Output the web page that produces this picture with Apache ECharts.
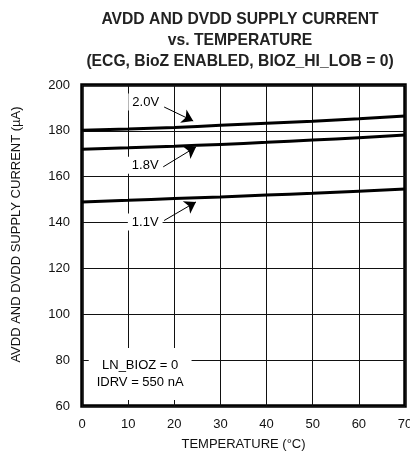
<!DOCTYPE html>
<html>
<head>
<meta charset="utf-8">
<script src="https://cdn.jsdelivr.net/npm/echarts@6/dist/echarts.min.js"></script>
<style>
  html, body { margin: 0; padding: 0; background: #fff; }
  #chart { width: 410px; height: 468px; }
</style>
</head>
<body>
<div id="chart"></div>
<script>
// temperature (°C)
const temps = [0, 10, 20, 30, 40, 50, 60, 70];
// supply current (µA) per supply voltage
const i20 = [180.3, 180.8, 181.5, 182.4, 183.3, 184.2, 185.3, 186.5];
const i18 = [172.0, 172.6, 173.3, 174.1, 175.0, 176.0, 177.0, 178.2];
const i11 = [149.0, 149.7, 150.5, 151.2, 152.0, 152.8, 153.7, 154.6];
const seriesNames = ['2.0V', '1.8V', '1.1V'];
// annotation anchors in data space: label pos, arrow start, arrow end
const labelPos = [[13.8, 192.6], [13.7, 165], [13.7, 140.2]];
const arrowFrom = [[17.8, 190.4], [17.6, 164.3], [17.8, 140.9]];
const arrowTo = [[24.1, 184.3], [24.7, 173], [24.7, 149]];
const noteText = 'LN_BIOZ = 0\nIDRV = 550 nA';
const notePos = [12.6, 74];

const FONT = "'Liberation Sans', Arial, sans-serif";
const chart = echarts.init(document.getElementById('chart'));

const allData = [i20, i18, i11];
const series = allData.map((vals, k) => ({
  name: seriesNames[k],
  type: 'line',
  data: temps.map((t, j) => [t, vals[j]]),
  showSymbol: false,
  smooth: true,
  lineStyle: { color: '#000', width: 3 },
  z: 3,
  markLine: {
    silent: true,
    symbol: ['none', 'arrow'],
    symbolSize: 11,
    lineStyle: { color: '#000', width: 1, type: 'solid' },
    itemStyle: { color: '#000' },
    label: { show: false },
    data: [[{ coord: arrowFrom[k] }, { coord: arrowTo[k] }]]
  },
  markPoint: {
    silent: true,
    symbol: 'rect',
    symbolSize: 0,
    label: {
      show: true,
      formatter: seriesNames[k],
      color: '#000',
      fontFamily: FONT,
      fontSize: 13,
      backgroundColor: '#fff',
      padding: [2, 4]
    },
    data: [{ coord: labelPos[k] }]
  }
}));

series.push({
  type: 'scatter',
  data: [],
  markPoint: {
    silent: true,
    symbol: 'rect',
    symbolSize: 0,
    label: {
      show: true,
      formatter: noteText,
      color: '#000',
      fontFamily: FONT,
      fontSize: 13,
      lineHeight: 17,
      align: 'center',
      backgroundColor: '#fff',
      padding: [9, 8]
    },
    data: [{ coord: notePos }]
  }
});

chart.setOption({
  animation: false,
  title: {
    text: 'AVDD AND DVDD SUPPLY CURRENT\nvs. TEMPERATURE\n(ECG, BioZ ENABLED, BIOZ_HI_LOB = 0)',
    left: 235,
    top: 4,
    textAlign: 'center',
    textStyle: { fontFamily: FONT, fontWeight: 'bold', fontSize: 15.7, lineHeight: 21, color: '#222' }
  },
  grid: {
    left: 82, right: 5, top: 85, bottom: 62,
    outerBoundsMode: 'none',
    show: true, borderColor: '#000', borderWidth: 3.5
  },
  xAxis: {
    type: 'value',
    min: 0, max: 70, interval: 10,
    name: 'TEMPERATURE (°C)',
    nameLocation: 'middle',
    nameGap: 32,
    nameTextStyle: { fontFamily: FONT, fontSize: 13, color: '#111' },
    axisLine: { show: false },
    axisTick: { show: false },
    axisLabel: { fontFamily: FONT, fontSize: 13, color: '#111', margin: 12 },
    splitLine: { lineStyle: { color: '#111', width: 1 } }
  },
  yAxis: {
    type: 'value',
    min: 60, max: 200, interval: 20,
    name: 'AVDD AND DVDD SUPPLY CURRENT (µA)',
    nameLocation: 'middle',
    nameGap: 59,
    nameTextStyle: { fontFamily: FONT, fontSize: 13, color: '#111', padding: [0, 0, 0, 22] },
    axisLine: { show: false },
    axisTick: { show: false },
    axisLabel: { fontFamily: FONT, fontSize: 13, color: '#111', margin: 12 },
    splitLine: { lineStyle: { color: '#111', width: 1 } }
  },
  series: series
});
</script>
</body>
</html>
